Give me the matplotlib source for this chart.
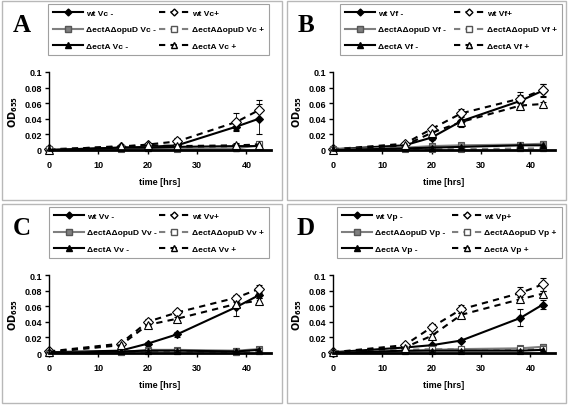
import matplotlib
matplotlib.use("Agg")
import matplotlib.pyplot as plt
from matplotlib.patches import Rectangle
from matplotlib.lines import Line2D
import numpy as np

plt.rcParams['font.family'] = ['Liberation Sans', 'DejaVu Sans']
plt.rcParams['font.weight'] = 'bold'

time_hrs = [0, 14.5, 20, 26, 38, 42.5]
panel_letters = ["A", "B", "C", "D"]
species = ["Vc", "Vf", "Vv", "Vp"]
xticks = [0, 10, 20, 30, 40]
yticks = [0, 0.02, 0.04, 0.06, 0.08, 0.1]
ytick_labels = ["0", "0.02", "0.04", "0.06", "0.08", "0.1"]

# values per panel: wt-, wt+, dd-, dd+, a-, a+
wt_minus = {
    "A": [0.000, 0.003, 0.004, 0.006, 0.030, 0.040],
    "B": [0.001, 0.006, 0.016, 0.037, 0.063, 0.076],
    "C": [0.001, 0.003, 0.012, 0.024, 0.059, 0.074],
    "D": [0.001, 0.007, 0.010, 0.016, 0.045, 0.062],
}
wt_minus_err = {
    "A": [0, 0.001, 0.001, 0.002, 0.004, 0.019],
    "B": [0, 0.001, 0.003, 0.007, 0.008, 0.008],
    "C": [0, 0.001, 0.002, 0.003, 0.011, 0.004],
    "D": [0, 0.001, 0.002, 0.002, 0.011, 0.006],
}
wt_plus = {
    "A": [0.001, 0.004, 0.007, 0.011, 0.036, 0.051],
    "B": [0.001, 0.008, 0.027, 0.047, 0.066, 0.077],
    "C": [0.002, 0.012, 0.040, 0.052, 0.071, 0.082],
    "D": [0.001, 0.010, 0.033, 0.056, 0.077, 0.088],
}
wt_plus_err = {
    "A": [0, 0.001, 0.002, 0.005, 0.012, 0.013],
    "B": [0, 0.001, 0.003, 0.005, 0.009, 0.008],
    "C": [0, 0.002, 0.003, 0.003, 0.004, 0.005],
    "D": [0, 0.001, 0.004, 0.005, 0.008, 0.008],
}
dd_minus = {
    "A": [0.000, 0.001, 0.002, 0.001, 0.002, 0.006],
    "B": [0.001, 0.003, 0.005, 0.006, 0.007, 0.008],
    "C": [0.000, 0.001, 0.004, 0.004, 0.003, 0.005],
    "D": [0.000, 0.002, 0.004, 0.005, 0.006, 0.008],
}
dd_plus = {
    "A": [0.001, 0.002, 0.003, 0.003, 0.002, 0.008],
    "B": [0.000, 0.001, 0.001, 0.001, 0.002, 0.002],
    "C": [0.000, 0.001, 0.002, 0.002, 0.001, 0.002],
    "D": [0.000, 0.004, 0.005, 0.005, 0.005, 0.005],
}
a_minus = {
    "A": [0.000, 0.003, 0.003, 0.004, 0.005, 0.005],
    "B": [0.000, 0.002, 0.003, 0.004, 0.006, 0.006],
    "C": [0.000, 0.002, 0.003, 0.003, 0.002, 0.004],
    "D": [0.000, 0.003, 0.003, 0.003, 0.003, 0.004],
}
a_plus = {
    "A": [0.000, 0.005, 0.006, 0.005, 0.006, 0.007],
    "B": [0.000, 0.006, 0.022, 0.036, 0.057, 0.059],
    "C": [0.001, 0.010, 0.036, 0.044, 0.063, 0.067],
    "D": [0.001, 0.007, 0.022, 0.049, 0.069, 0.076],
}
small_err = [0, 0.001, 0.002, 0.002, 0.003, 0.003]

W, H = 568, 406
fig = plt.figure(figsize=(W / 100, H / 100), dpi=100)

offsets = {"A": (0, 0), "B": (284, 0), "C": (0, 203), "D": (284, 203)}
panel_box = {"A": (2, 2, 282, 201), "B": (287, 2, 566, 201),
             "C": (2, 205, 282, 404), "D": (287, 205, 566, 404)}
legend_box = {"A": (48, 5, 269, 57), "B": (340, 5, 562, 57),
              "C": (49, 208, 269, 260), "D": (337, 208, 562, 260)}

def fx(px):
    return px / W

def fy(py):
    return 1 - py / H

for L, sp in zip(panel_letters, species):
    ox, oy = offsets[L]
    x0, y0, x1, y1 = panel_box[L]
    fig.add_artist(Rectangle((fx(x0), fy(y1)), fx(x1 - x0), (y1 - y0) / H,
                             transform=fig.transFigure, fill=False,
                             edgecolor="#b8b8b8", linewidth=1.0))
    fig.text(fx(ox + 22), fy(oy + 32), L, family="Liberation Serif",
             fontweight="bold", fontsize=18, ha="center", va="baseline")

    left, right, top, bottom = 49 + ox, 271 + ox, 73 + oy, 151 + oy
    ax = fig.add_axes([fx(left), fy(bottom), fx(right - left), (bottom - top) / H])
    ax.set_xlim(0, 45)
    ax.set_ylim(0, 0.1)
    ax.spines['top'].set_visible(False)
    ax.spines['right'].set_visible(False)
    ax.spines['left'].set_linewidth(1.0)
    ax.spines['bottom'].set_linewidth(2.0)
    ax.set_xticks(xticks)
    ax.set_yticks(yticks)
    ax.set_yticklabels(ytick_labels)
    ax.tick_params(axis='both', direction='out', length=3, width=1,
                   labelsize=6.5)
    ax.tick_params(axis='x', pad=4)
    ax.tick_params(axis='y', pad=2)
    for t in ax.get_xticklabels() + ax.get_yticklabels():
        t.set_fontweight('bold')
    ax.set_xlabel("time [hrs]", fontsize=6.5, fontweight='bold', labelpad=6)
    ax.set_ylabel(r"$\mathbf{OD_{655}}$", fontsize=7, labelpad=3)

    series = [
        (wt_minus[L], wt_minus_err[L], "black", "-", "D", "black", 4),
        (wt_plus[L], wt_plus_err[L], "black", (0, (3, 2.5)), "D", "white", 5),
        (dd_minus[L], small_err, "#7f7f7f", "-", "s", "#7f7f7f", 5),
        (dd_plus[L], small_err, "#7f7f7f", (0, (3, 2.5)), "s", "white", 5),
        (a_minus[L], small_err, "black", "-", "^", "black", 5),
        (a_plus[L], small_err, "black", (0, (3, 2.5)), "^", "white", 5.5),
    ]
    for vals, err, col, ls, mk, mfc, ms in series:
        ax.errorbar(time_hrs, vals, yerr=err, color=col, linestyle=ls,
                    linewidth=1.5, marker=mk, markerfacecolor=mfc,
                    markeredgecolor=("#555555" if col != "black" else "black"),
                    markeredgewidth=0.8, markersize=ms, ecolor="black",
                    elinewidth=0.6, capsize=2, capthick=0.6, clip_on=False)

    labels = [f"wt {sp} -", f"ΔectAΔopuD {sp} -", f"ΔectA {sp} -",
              f"wt {sp}+", f"ΔectAΔopuD {sp} +", f"ΔectA {sp} +"]
    handles = [
        Line2D([], [], color="black", ls="-", lw=1.5, marker="D", ms=3.5, mfc="black", mec="black"),
        Line2D([], [], color="#7f7f7f", ls="-", lw=1.5, marker="s", ms=4, mfc="#7f7f7f", mec="#555555"),
        Line2D([], [], color="black", ls="-", lw=1.5, marker="^", ms=4, mfc="black", mec="black"),
        Line2D([], [], color="black", ls=(0, (3, 2.5)), lw=1.5, marker="D", ms=3.5, mfc="white", mec="black"),
        Line2D([], [], color="#7f7f7f", ls=(0, (3, 2.5)), lw=1.5, marker="s", ms=4, mfc="white", mec="#555555"),
        Line2D([], [], color="black", ls=(0, (3, 2.5)), lw=1.5, marker="^", ms=4, mfc="white", mec="black"),
    ]
    lx0, ly0, lx1, ly1 = legend_box[L]
    leg = fig.legend(handles, labels, ncol=2, loc="upper left",
                     bbox_to_anchor=(fx(lx0), fy(ly0), fx(lx1 - lx0), 0),
                     bbox_transform=fig.transFigure, mode="expand",
                     fontsize=6, handlelength=3.6, handletextpad=0.3,
                     columnspacing=0.3, labelspacing=1.0, borderpad=0.65,
                     borderaxespad=0, fancybox=False, framealpha=1,
                     edgecolor="#a0a0a0", prop={'weight': 'bold', 'size': 6})
    leg.get_frame().set_linewidth(0.8)

fig.savefig("out.png", dpi=100)
